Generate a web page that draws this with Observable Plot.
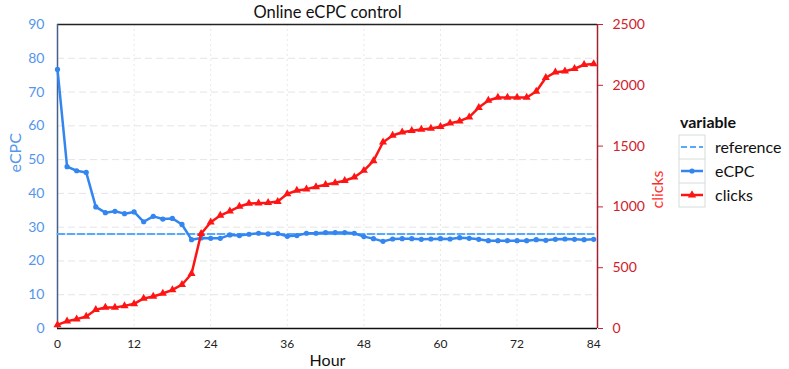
<!DOCTYPE html>
<html><head><meta charset="utf-8">
<script src="https://cdn.jsdelivr.net/npm/d3@7"></script>
<script src="https://cdn.jsdelivr.net/npm/@observablehq/plot@0.6"></script>
<style>
body{margin:0;background:#fff;font-family:Lato,"Open Sans",sans-serif;}
#chart{width:789px;height:369px;}
</style></head><body><div id="chart"></div>
<script>
const hours = [0,1.5,3,4.5,6,7.5,9,10.5,12,13.5,15,16.5,18,19.5,21,22.5,24,25.5,27,28.5,30,31.5,33,34.5,36,37.5,39,40.5,42,43.5,45,46.5,48,49.5,51,52.5,54,55.5,57,58.5,60,61.5,63,64.5,66,67.5,69,70.5,72,73.5,75,76.5,78,79.5,81,82.5,84];
const ecpc = [76.7,47.9,46.7,46.2,36.0,34.3,34.7,34.0,34.5,31.6,33.2,32.4,32.6,30.8,26.3,26.8,26.7,26.7,27.7,27.5,27.9,28.2,28.0,28.1,27.3,27.5,28.2,28.2,28.4,28.4,28.4,28.2,27.2,26.6,25.8,26.5,26.6,26.6,26.4,26.5,26.6,26.5,26.9,26.7,26.4,26.0,26.0,26.0,26.0,26.0,26.3,26.1,26.4,26.5,26.4,26.3,26.4];
const clicks = [30,60,77,99,154,173,173,186,203,247,263,288,318,360,450,779,874,929,965,1003,1028,1030,1034,1044,1107,1135,1146,1165,1182,1198,1215,1244,1299,1379,1532,1587,1614,1626,1637,1645,1659,1688,1705,1738,1817,1875,1900,1900,1900,1900,1949,2062,2108,2116,2136,2169,2175];
const reference = 28;
const xTicks = [0,12,24,36,48,60,72,84];
const leftTicks = [0,10,20,30,40,50,60,70,80,90];
const rightTicks = [0,500,1000,1500,2000,2500];
const seriesNames = ["reference","eCPC","clicks"];
const seriesColors = ["#55aaff","#3385f0","#ff1414"];

const Y_MAX = 90, C_MAX = 2500, X_MAX = 84.6;
const toY = c => c * Y_MAX / C_MAX;
const ecpcData = hours.map((h,i)=>({hour:h, value:ecpc[i]}));
const clickData = hours.map((h,i)=>({hour:h, value:toY(clicks[i])}));
const refData = [{hour:hours[0], value:reference},{hour:hours[hours.length-1], value:reference}];

const plot = Plot.plot({
  width: 789, height: 369,
  marginLeft: 57, marginRight: 192, marginTop: 24, marginBottom: 41,
  x: {domain:[0, X_MAX]},
  y: {domain:[0, Y_MAX]},
  style: {fontFamily: "Lato, 'Open Sans', sans-serif", background: "white", overflow: "visible"},
  marks: [
    Plot.gridY(leftTicks.slice(1,-1), {stroke:"#e4e4e4", strokeOpacity:1, strokeDasharray:"7,4"}),
    Plot.gridX(xTicks.slice(1,-1), {stroke:"#e8e8e8", strokeOpacity:1, strokeDasharray:"2,3"}),
    Plot.axisY(leftTicks, {anchor:"left", tickSize:0, tickPadding:13, color:"#5496ea", fontSize:14, label:null}),
    Plot.axisY(rightTicks.map(toY), {anchor:"right", tickSize:5, tickPadding:10, color:"#d0202c", fontSize:14, label:null, tickFormat: v => String(Math.round(v*C_MAX/Y_MAX))}),
    Plot.axisX(xTicks, {anchor:"bottom", tickSize:0, tickPadding:11, color:"#222", fontSize:12, label:null}),
    Plot.ruleY([0], {stroke:"#111", strokeWidth:1.5}),
    Plot.ruleY([Y_MAX], {stroke:"#222", strokeWidth:1.5}),
    Plot.ruleX([0], {stroke:"#44618c", strokeWidth:1.5}),
    Plot.ruleX([X_MAX], {stroke:"#a3212f", strokeWidth:1.5}),
    Plot.line(refData, {x:"hour", y:"value", stroke:seriesColors[0], strokeWidth:2, strokeDasharray:"7,3"}),
    Plot.line(ecpcData, {x:"hour", y:"value", stroke:seriesColors[1], strokeWidth:2.5}),
    Plot.dot(ecpcData, {x:"hour", y:"value", fill:seriesColors[1], r:2.6}),
    Plot.line(clickData, {x:"hour", y:"value", stroke:seriesColors[2], strokeWidth:2.5}),
    Plot.dot(clickData, {x:"hour", y:"value", fill:seriesColors[2], symbol:"triangle", r:3}),
    Plot.text(["Online eCPC control"], {frameAnchor:"top", lineAnchor:"middle", dy:-12, fontSize:16.5, fill:"#111"}),
    Plot.text(["Hour"], {frameAnchor:"bottom", lineAnchor:"middle", dy:32, fontSize:16, fill:"#111"}),
    Plot.text(["eCPC"], {frameAnchor:"left", dx:-42, dy:-4, rotate:-90, fontSize:16, fill:"#5496ea"}),
    Plot.text(["clicks"], {frameAnchor:"right", dx:60, dy:-6, rotate:-90, fontSize:16, fill:"#ff2a2a"})
  ]
});
document.getElementById("chart").appendChild(plot);

// legend
const svg = d3.select(plot);
const lg = svg.append("g").attr("font-family","Lato, 'Open Sans', sans-serif").attr("text-anchor","start");
lg.append("text").attr("x",680).attr("y",128).attr("font-size",16).attr("font-weight","bold").attr("fill","#111").text("variable");
const rowH = 24, top0 = 135, kx0 = 679, kx1 = 705;
lg.append("rect").attr("x",kx0).attr("y",top0).attr("width",kx1-kx0).attr("height",rowH*3).attr("fill","none").attr("stroke","#d3ddd9");
seriesNames.forEach((name,i)=>{
  const cy = top0 + rowH*i + rowH/2;
  if (i>0) lg.append("line").attr("x1",kx0).attr("x2",kx1).attr("y1",top0+rowH*i).attr("y2",top0+rowH*i).attr("stroke","#d3ddd9");
  const ln = lg.append("line").attr("x1",kx0+2).attr("x2",kx1-2).attr("y1",cy).attr("y2",cy).attr("stroke",seriesColors[i]).attr("stroke-width",i===0?2:2.5);
  if (i===0) ln.attr("stroke-dasharray","6,3");
  if (i===1) lg.append("circle").attr("cx",(kx0+kx1)/2).attr("cy",cy).attr("r",2.6).attr("fill",seriesColors[i]);
  if (i===2) lg.append("path").attr("transform",`translate(${(kx0+kx1)/2},${cy})`).attr("d",d3.symbol(d3.symbolTriangle, 30)()).attr("fill",seriesColors[i]);
  lg.append("text").attr("x",715).attr("y",cy+5.5).attr("font-size",16).attr("fill","#111").attr("text-anchor","start").text(name);
});
</script></body></html>
